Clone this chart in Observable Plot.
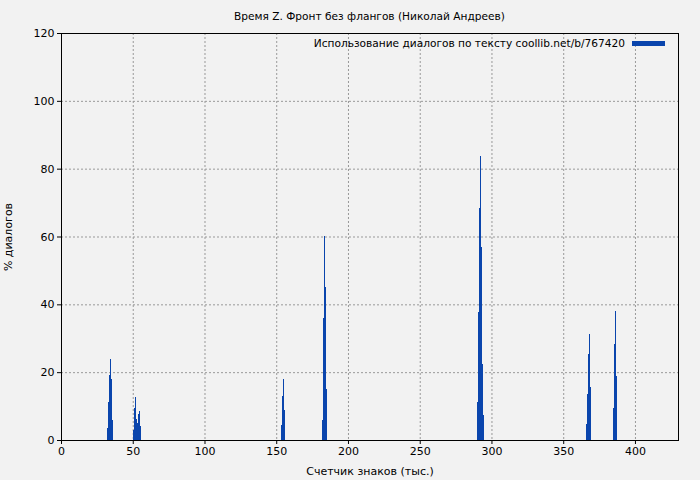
<!DOCTYPE html>
<html><head><meta charset="utf-8">
<script src="https://cdn.jsdelivr.net/npm/d3@7"></script>
<script src="https://cdn.jsdelivr.net/npm/@observablehq/plot@0.6"></script>
<style>
html,body{margin:0;padding:0;background:#f2f2f2;}
#chart{width:700px;height:480px;}
</style></head>
<body><div id="chart"></div>
<script>
const title = "Время Z. Фронт без флангов (Николай Андреев)";
const legendLabel = "Использование диалогов по тексту coollib.net/b/767420";
const xLabel = "Счетчик знаков (тыс.)";
const yLabel = "% диалогов";
const xTicks = [0, 50, 100, 150, 200, 250, 300, 350, 400];
const yTicks = [0, 20, 40, 60, 80, 100, 120];
const binWidth = 0.7;
// position (thousand chars) and % of dialogue
const positions = [
  32.1, 32.8, 33.5, 34.2, 34.9, 35.6,
  50.3, 51.0, 51.7, 52.4, 53.1, 53.8, 54.5, 55.1,
  153.6, 154.3, 155.0, 155.7,
  182.2, 182.9, 183.6, 184.3, 185.0,
  290.4, 291.1, 291.8, 292.5, 293.2, 293.9, 294.6,
  366.5, 367.2, 367.9, 368.6, 369.3,
  385.3, 386.0, 386.7, 387.4
];
const percents = [
  3.4, 11.3, 19.2, 23.9, 17.9, 5.9,
  3.0, 9.5, 12.6, 6.2, 5.1, 7.7, 8.6, 4.1,
  4.4, 13.0, 18.0, 8.7,
  5.9, 35.9, 60.2, 45.1, 15.0,
  11.3, 37.8, 68.3, 83.8, 57.0, 22.5, 7.4,
  4.7, 13.6, 25.4, 31.3, 15.7,
  9.5, 28.3, 38.0, 18.9
];
const data = positions.map((x, i) => ({x, y: percents[i]}));
const barColor = "#0a45ad";

const chart = Plot.plot({
  width: 700, height: 480,
  marginLeft: 61, marginRight: 22, marginTop: 33, marginBottom: 40,
  style: {fontFamily: "DejaVu Sans", fontSize: "11px", background: "#f2f2f2", color: "#000"},
  x: {domain: [0, 430]},
  y: {domain: [0, 120]},
  marks: [
    Plot.gridX(xTicks.slice(1), {stroke: "#999", strokeOpacity: 1, strokeDasharray: "2,2"}),
    Plot.gridY(yTicks.slice(1, -1), {stroke: "#999", strokeOpacity: 1, strokeDasharray: "2,2"}),
    Plot.rectY(data, {x1: d => d.x - binWidth / 2, x2: d => d.x + binWidth / 2, y: "y", fill: barColor, shapeRendering: "crispEdges"}),
    Plot.frame({stroke: "#000"}),
    Plot.axisX({ticks: xTicks, tickSize: 4, tickPadding: 3, label: xLabel, labelAnchor: "center", labelArrow: false, labelOffset: 34}),
    Plot.axisY({ticks: yTicks, tickSize: 4, tickPadding: 3, label: yLabel, labelAnchor: "center", labelArrow: false, labelOffset: 57})
  ]
});
const svg = d3.select(chart);
svg.append("text").attr("x", 369.5).attr("y", 20).attr("text-anchor", "middle")
  .attr("font-size", 10.6).attr("fill", "#000").text(title);
svg.append("text").attr("x", 625).attr("y", 47).attr("text-anchor", "end")
  .attr("font-size", 10.6).attr("fill", "#000").text(legendLabel);
svg.append("rect").attr("x", 632).attr("y", 41).attr("width", 33).attr("height", 5).attr("fill", barColor);
document.getElementById("chart").appendChild(chart);
</script>
</body></html>
